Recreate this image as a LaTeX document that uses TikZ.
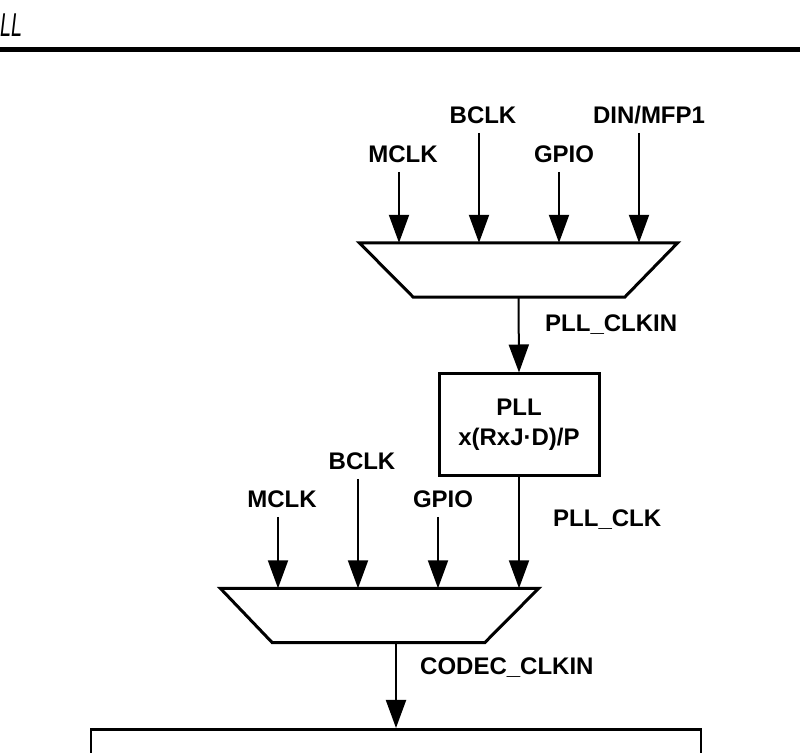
\documentclass[tikz,border=0pt]{standalone}
\usepackage{fontspec}
\setmainfont{Liberation Sans}
\usetikzlibrary{arrows.meta,positioning}

\begin{document}
\begin{tikzpicture}[x=1pt, y=1pt, >={Triangle[length=28pt,width=20pt]},
    sig/.style={font=\fontsize{24}{28}\selectfont\bfseries, inner sep=0pt, outer sep=9pt, text depth=0pt, anchor=base},
    tag/.style={font=\fontsize{24}{28}\selectfont\bfseries, inner sep=0pt, anchor=west},
    mux/.style={rectangle, minimum width=318pt, minimum height=54pt, inner sep=0pt},
    muxline/.style={draw, line width=3pt, fill=white, line join=miter},
    pll/.style={rectangle, draw, line width=3pt, fill=white, minimum width=160pt, minimum height=102pt, align=center, font=\fontsize{24}{30}\selectfont\bfseries},
    line/.style={draw, ->, line width=2pt}]

    \useasboundingbox (0,0) rectangle (800,752);

    % heading
    \node [anchor=base west, inner sep=0pt, font=\fontsize{33}{36}\selectfont\itshape, xscale=0.6, transform shape] (title) at (0,715) {LL};
    \draw [line width=5pt] (0,702) -- (800,702);

    % first clock mux
    \node [mux] (mux1) at (518.5,482) {};
    \draw [muxline] (mux1.north west) -- (mux1.north east) -- ([xshift=-53pt]mux1.south east) -- ([xshift=54pt]mux1.south west) -- cycle;

    \node [sig] (mclka) at (403,589) {MCLK};
    \node [sig] (bclka) at (483,628) {BCLK};
    \node [sig] (gpioa) at (564,589) {GPIO};
    \node [sig] (dina) at (649,628) {DIN/MFP1};

    \draw [line] ([xshift=-4pt]mclka.south) -- ([xshift=-4pt]mclka.south |- mux1.north);
    \draw [line] ([xshift=-4pt]bclka.south) -- ([xshift=-4pt]bclka.south |- mux1.north);
    \draw [line] ([xshift=-5pt]gpioa.south) -- ([xshift=-5pt]gpioa.south |- mux1.north);
    \draw [line] ([xshift=-10pt]dina.south) -- ([xshift=-10pt]dina.south |- mux1.north);

    % pll
    \node [pll] (pll) at (519,327) {PLL\\x(RxJ·D)/P};
    \draw [line] (mux1.south) -- (pll.north);
    \node [tag] (clkin) at (545,427) {PLL\_CLKIN};

    % second clock mux
    \node [mux] (mux2) at (379.5,136.5) {};
    \draw [muxline] (mux2.north west) -- (mux2.north east) -- ([xshift=-54pt]mux2.south east) -- ([xshift=52pt]mux2.south west) -- cycle;

    \node [sig] (mclkb) at (282,244) {MCLK};
    \node [sig] (bclkb) at (362,282) {BCLK};
    \node [sig] (gpiob) at (443,244) {GPIO};

    \draw [line] ([xshift=-4pt]mclkb.south) -- ([xshift=-4pt]mclkb.south |- mux2.north);
    \draw [line] ([xshift=-4pt]bclkb.south) -- ([xshift=-4pt]bclkb.south |- mux2.north);
    \draw [line] ([xshift=-5pt]gpiob.south) -- ([xshift=-5pt]gpiob.south |- mux2.north);
    \draw [line] (pll.south) -- (pll.south |- mux2.north);
    \node [tag] (pllclk) at (553,232) {PLL\_CLK};

    % codec
    \node [rectangle, draw, line width=2.5pt, minimum width=610pt, minimum height=60pt, anchor=north] (codec) at (396,24) {};
    \draw [line] (codec.north |- mux2.south) -- (codec.north);
    \node [tag] (codecin) at (420,84) {CODEC\_CLKIN};

\end{tikzpicture}
\end{document}
